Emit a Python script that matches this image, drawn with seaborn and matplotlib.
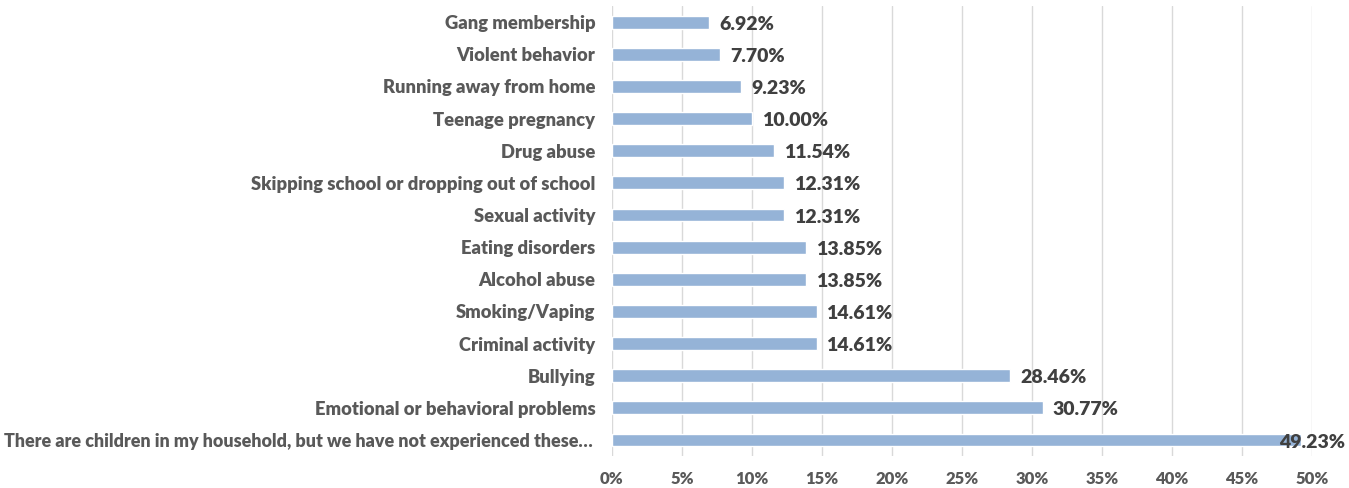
import matplotlib
matplotlib.use("Agg")
import matplotlib.pyplot as plt
import seaborn as sns
import pandas as pd

categories = [
    "Gang membership",
    "Violent behavior",
    "Running away from home",
    "Teenage pregnancy",
    "Drug abuse",
    "Skipping school or dropping out of school",
    "Sexual activity",
    "Eating disorders",
    "Alcohol abuse",
    "Smoking/Vaping",
    "Criminal activity",
    "Bullying",
    "Emotional or behavioral problems",
    "There are children in my household, but we have not experienced these\u2026",
]
values = [6.92, 7.70, 9.23, 10.00, 11.54, 12.31, 12.31, 13.85, 13.85, 14.61, 14.61, 28.46, 30.77, 49.23]
x_ticks = [0, 5, 10, 15, 20, 25, 30, 35, 40, 45, 50]

df = pd.DataFrame({"category": categories, "value": values})

sns.set_theme(style="white")
plt.rcParams["font.family"] = ["Lato", "DejaVu Sans"]

fig = plt.figure(figsize=(13.49, 4.88), dpi=100)
ax = fig.add_axes([612 / 1349, 1 - 456 / 488, (1312 - 612) / 1349, 450 / 488])

sns.barplot(data=df, y="category", x="value", orient="h", color="#95B3D7",
            saturation=1, width=0.4, ax=ax, zorder=3)

ax.set_xlim(0, 50)
ax.set_ylim(len(categories) - 0.5, -0.5)
ax.set_xticks(x_ticks)
ax.set_xticklabels([f"{t}%" for t in x_ticks], fontsize=12, fontweight="heavy", color="#595959")
ax.tick_params(axis="x", length=0, pad=11)
ax.tick_params(axis="y", length=0, pad=12)
ylabels = ax.get_yticklabels()
for lbl in ylabels:
    lbl.set_fontsize(13.2)
    lbl.set_fontweight("heavy")
    lbl.set_color("#595959")
# the longest category name is set a touch smaller so it fits the margin
ylabels[-1].set_fontsize(12.85)
ylabels[-1].set_x(-0.003)
ax.set_xlabel("")
ax.set_ylabel("")
ax.grid(axis="x", color="#D9D9D9", linewidth=1, zorder=0)
ax.grid(axis="y", visible=False)
for s in ax.spines.values():
    s.set_visible(False)

for i, v in enumerate(values):
    off = 10 if i < len(values) - 1 else -22
    ax.annotate(f"{v:.2f}%", xy=(v, i), xytext=(off * 0.72, -1.5), textcoords="offset points",
                va="center", ha="left", fontsize=14, fontweight="heavy", color="#404040", zorder=4)

fig.savefig("out.png", dpi=100)
